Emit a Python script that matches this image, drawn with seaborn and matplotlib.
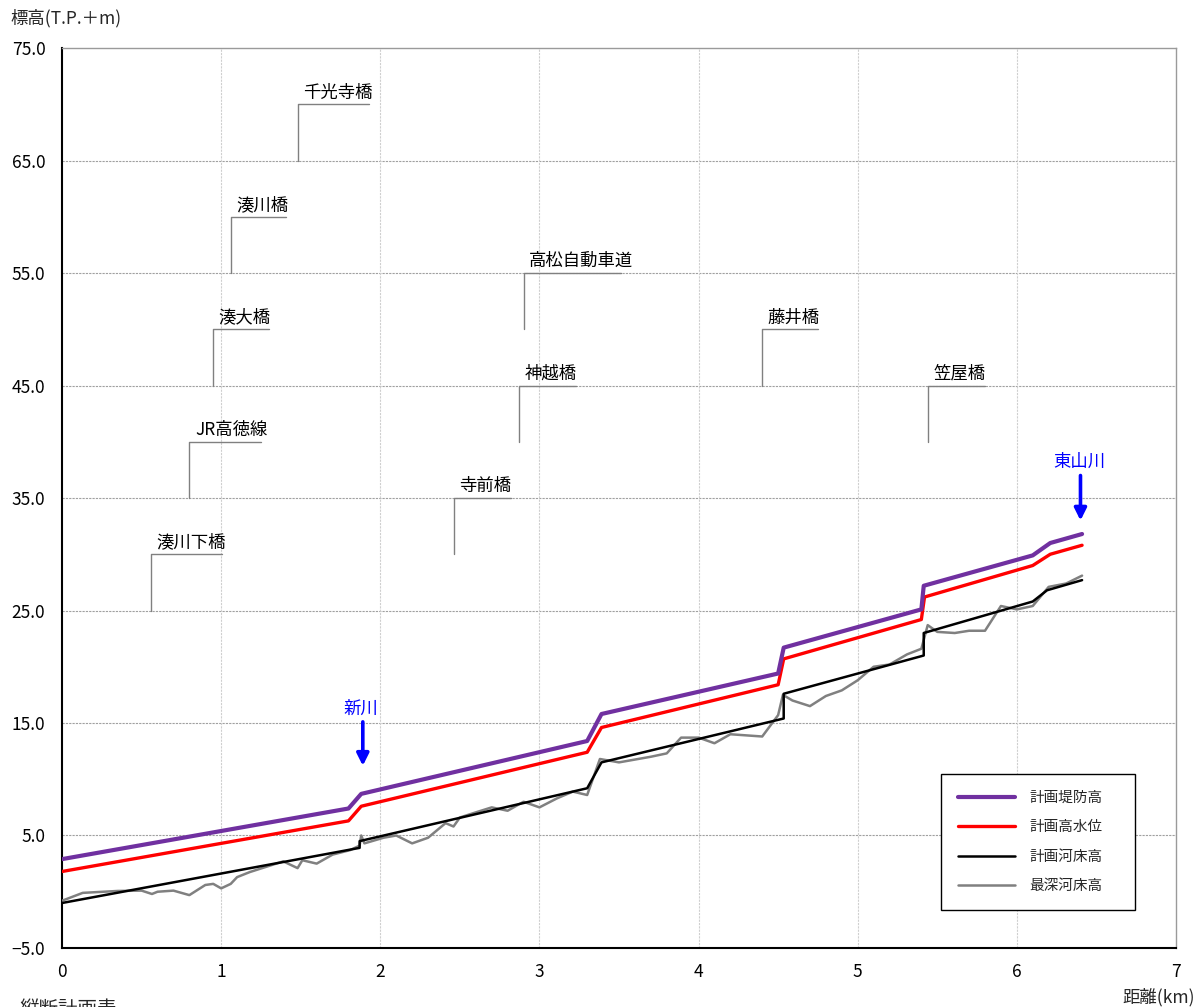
import numpy as np
import pandas as pd
import matplotlib
matplotlib.use("Agg")
import matplotlib.pyplot as plt
from matplotlib.lines import Line2D
import seaborn as sns

sns.set_theme(style="white")
plt.rcParams["font.family"] = ["Noto Sans CJK JP", "DejaVu Sans"]

# ---- 縦断データ (距離 km, 標高 T.P.+m) ----
levee_x = [0.0, 1.80, 1.88, 3.30, 3.39, 4.50, 4.535, 5.40, 5.415, 6.10, 6.21, 6.41]
levee_y = [2.9, 7.4, 8.7, 13.4, 15.8, 19.4, 21.7, 25.1, 27.2, 29.9, 31.0, 31.8]

hwl_x = [0.0, 1.80, 1.88, 3.30, 3.39, 4.50, 4.535, 5.40, 5.42, 6.10, 6.21, 6.41]
hwl_y = [1.8, 6.3, 7.6, 12.4, 14.6, 18.4, 20.7, 24.2, 26.2, 29.0, 30.0, 30.8]

bed_x = [0.0, 1.87, 1.87, 3.30, 3.39, 4.535, 4.535, 5.415, 5.415, 6.10, 6.19, 6.41]
bed_y = [-1.0, 3.9, 4.5, 9.2, 11.5, 15.4, 17.6, 21.0, 23.0, 25.8, 26.8, 27.7]

deep_x = [0.0, 0.13, 0.35, 0.50, 0.565, 0.60, 0.70, 0.80, 0.90, 0.95, 1.00, 1.06,
          1.10, 1.18, 1.39, 1.48, 1.51, 1.60, 1.70, 1.81, 1.87, 1.88, 1.90, 2.02,
          2.10, 2.20, 2.30, 2.41, 2.46, 2.50, 2.61, 2.70, 2.80, 2.90, 3.00, 3.11,
          3.21, 3.30, 3.38, 3.50, 3.70, 3.80, 3.89, 4.00, 4.10, 4.20, 4.40, 4.50,
          4.53, 4.59, 4.70, 4.80, 4.90, 5.00, 5.10, 5.20, 5.31, 5.40, 5.44, 5.50,
          5.61, 5.70, 5.80, 5.90, 6.00, 6.10, 6.20, 6.31, 6.41]
deep_y = [-0.8, -0.1, 0.07, 0.1, -0.2, 0.0, 0.1, -0.3, 0.6, 0.7, 0.3, 0.7,
          1.3, 1.75, 2.7, 2.1, 2.8, 2.5, 3.3, 3.7, 4.1, 5.0, 4.3, 4.8,
          5.0, 4.3, 4.8, 6.1, 5.8, 6.6, 7.1, 7.5, 7.2, 8.0, 7.5, 8.3,
          8.9, 8.6, 11.8, 11.5, 12.0, 12.3, 13.7, 13.7, 13.2, 14.0, 13.8, 15.7,
          17.5, 17.0, 16.5, 17.4, 17.9, 18.8, 20.0, 20.2, 21.1, 21.6, 23.7, 23.1,
          23.0, 23.2, 23.2, 25.4, 25.1, 25.4, 27.1, 27.4, 28.1]

series_names = ["計画堤防高", "計画高水位", "計画河床高", "最深河床高"]
series_colors = ["#7030A0", "#FF0000", "#000000", "#808080"]
series_widths = [3.0, 2.4, 1.8, 1.8]

# ---- 横断構造物 ----
bridge_names = ["湊川下橋", "JR高徳線", "湊大橋", "湊川橋", "千光寺橋",
                "寺前橋", "神越橋", "高松自動車道", "藤井橋", "笠屋橋"]
bridge_x = [0.56, 0.80, 0.95, 1.06, 1.48, 2.46, 2.87, 2.90, 4.40, 5.44]
bridge_base = [25, 35, 45, 55, 65, 30, 40, 50, 45, 40]
bridge_len = [0.445, 0.45, 0.35, 0.35, 0.45, 0.36, 0.36, 0.61, 0.35, 0.36]

# ---- 支川合流点 ----
trib_names = ["新川", "東山川"]
trib_x = [1.89, 6.40]
trib_top = [15.1, 37.0]
trib_tip = [11.2, 33.0]

x_ticks = [0, 1, 2, 3, 4, 5, 6, 7]
y_ticks = [-5, 5, 15, 25, 35, 45, 55, 65, 75]

fig = plt.figure(figsize=(11.98, 10.07), dpi=100)
ax = fig.add_axes([0.0518, 0.0586, 0.9298, 0.8937])

frames = [
    pd.DataFrame({"距離": levee_x, "標高": levee_y}),
    pd.DataFrame({"距離": hwl_x, "標高": hwl_y}),
    pd.DataFrame({"距離": bed_x, "標高": bed_y}),
    pd.DataFrame({"距離": deep_x, "標高": deep_y}),
]
zorders = [6, 5, 4, 3]
for df, name, col, lw, zo in zip(frames, series_names, series_colors, series_widths, zorders):
    sns.lineplot(data=df, x="距離", y="標高", ax=ax, color=col, linewidth=lw,
                 estimator=None, sort=False, zorder=zo, legend=False)

ax.set_xlim(0, 7)
ax.set_ylim(-5, 75)
ax.set_xticks(x_ticks)
ax.set_xticklabels([str(t) for t in x_ticks])
ax.set_yticks(y_ticks)
ax.set_yticklabels([f"{t:.1f}".replace("-", "\u2212") for t in y_ticks])
ax.set_xlabel("")
ax.set_ylabel("")
ax.tick_params(axis="both", length=0, labelsize=12.5, colors="black")
ax.tick_params(axis="x", pad=11)
ax.tick_params(axis="y", pad=12)

# grid
for yv in y_ticks[1:-1]:
    ax.axhline(yv, color="#a0a0a0", linestyle=(0, (2, 1)), linewidth=0.8, zorder=1)
for xv in x_ticks[1:-1]:
    ax.axvline(xv, color="#cfcfcf", linestyle=(0, (2, 1)), linewidth=0.8, zorder=1)

for side in ["left", "bottom"]:
    ax.spines[side].set_color("black")
    ax.spines[side].set_linewidth(1.5)
for side in ["top", "right"]:
    ax.spines[side].set_color("#9a9a9a")
    ax.spines[side].set_linewidth(1.0)

# bridge leaders
for name, bx, base, ln in zip(bridge_names, bridge_x, bridge_base, bridge_len):
    ax.plot([bx, bx, bx + ln], [base, base + 5, base + 5], color="#808080",
            linewidth=1.0, zorder=2)
    ax.text(bx + 0.035, base + 5.25, name, fontsize=12.5, color="black",
            ha="left", va="bottom", zorder=7)

# tributary arrows
for name, tx, top, tip in zip(trib_names, trib_x, trib_top, trib_tip):
    ax.annotate("", xy=(tx, tip), xytext=(tx, top),
                arrowprops=dict(arrowstyle="-|>,head_length=0.6,head_width=0.3",
                                color="#0000FF", lw=2.6, shrinkA=0, shrinkB=0),
                zorder=8)
    ax.text(tx - 0.01, top + 0.4, name, fontsize=12.5, color="#0000FF",
            ha="center", va="bottom", zorder=8)

# legend
handles = [Line2D([0], [0], color=c, linewidth=w)
           for c, w in zip(series_colors, series_widths)]
leg = ax.legend(handles, series_names, loc="upper left",
                bbox_to_anchor=(0.789, 0.039, 0.1745, 0.154), mode="expand",
                fontsize=10.5, frameon=True,
                fancybox=False, framealpha=1, edgecolor="black",
                borderpad=1.15, handlelength=3.9, handletextpad=1.0,
                labelspacing=1.05, borderaxespad=0)
leg.get_frame().set_linewidth(1.0)
leg.set_zorder(10)

# axis titles
fig.text(10 / 1198, 1 - 18 / 1007, "標高(T.P.＋m)", fontsize=12.5,
         ha="left", va="center")
fig.text(1195 / 1198, 1 - 997 / 1007, "距離(km)", fontsize=12.5,
         ha="right", va="center")
fig.text(20 / 1198, 1 - 999 / 1007, "縦断計画表", fontsize=14,
         ha="left", va="top")

fig.savefig("out.png", dpi=100, facecolor="white")
